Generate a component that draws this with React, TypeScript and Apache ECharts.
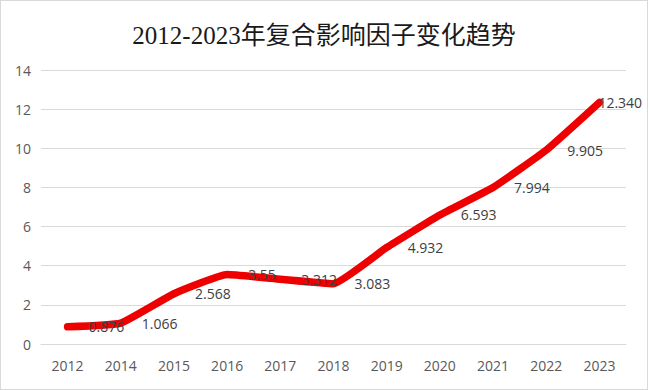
import React, { useEffect, useRef } from "react";
import * as echarts from "echarts";

const categories = ["2012", "2014", "2015", "2016", "2017", "2018", "2019", "2020", "2021", "2022", "2023"];
const values = [0.876, 1.066, 2.568, 3.55, 3.312, 3.083, 4.932, 6.593, 7.994, 9.905, 12.34];
const valueLabels = ["0.876", "1.066", "2.568", "3.55", "3.312", "3.083", "4.932", "6.593", "7.994", "9.905", "12.340"];
const titleText = "2012-2023年复合影响因子变化趋势";

export default function App() {
  const ref = useRef<HTMLDivElement>(null);
  useEffect(() => {
    document.body.style.margin = "0";
    const chart = echarts.init(ref.current!, null, { renderer: "svg" });
    const last = values.length - 1;
    chart.setOption({
      animation: false,
      backgroundColor: "#ffffff",
      title: {
        text: titleText,
        left: "center",
        top: 17,
        textStyle: {
          fontFamily: "'Liberation Serif', 'Noto Sans CJK SC', serif",
          fontSize: 25,
          fontWeight: "normal",
          color: "#1a1a1a",
        },
      },
      grid: { left: 40, right: 21, top: 69, bottom: 45 },
      xAxis: {
        type: "category",
        data: categories,
        boundaryGap: true,
        axisLine: { show: true, lineStyle: { color: "#d9d9d9" } },
        axisTick: { show: false },
        axisLabel: {
          color: "#595959",
          fontSize: 14,
          fontFamily: "'Open Sans', 'Liberation Sans', sans-serif",
          margin: 14,
        },
      },
      yAxis: {
        type: "value",
        min: 0,
        max: 14,
        interval: 2,
        axisLine: { show: false },
        axisTick: { show: false },
        splitLine: { lineStyle: { color: "#d9d9d9", width: 1 } },
        axisLabel: {
          color: "#595959",
          fontSize: 14,
          fontFamily: "'Open Sans', 'Liberation Sans', sans-serif",
          margin: 10,
        },
      },
      series: [
        {
          type: "line",
          smooth: 0.12,
          data: values.map((v, i) =>
            i === last
              ? { value: v, label: { offset: [-22, 0] } }
              : v
          ),
          symbol: "circle",
          symbolSize: 4,
          showSymbol: true,
          lineStyle: { color: "#ee0000", width: 7.5, cap: "round", join: "round" },
          itemStyle: { color: "#ee0000" },
          label: {
            show: true,
            position: "right",
            distance: 19,
            color: "#404040",
            fontSize: 14,
            fontFamily: "'Open Sans', 'Liberation Sans', sans-serif",
            formatter: (p: any) => valueLabels[p.dataIndex],
          },
        },
      ],
    });
    return () => chart.dispose();
  }, []);
  return (
    <div
      style={{
        position: "fixed",
        left: 0,
        top: 0,
        width: 648,
        height: 390,
        boxSizing: "border-box",
        border: "1px solid #d9d9d9",
      }}
    >
      <div ref={ref} style={{ width: 646, height: 388 }} />
    </div>
  );
}
